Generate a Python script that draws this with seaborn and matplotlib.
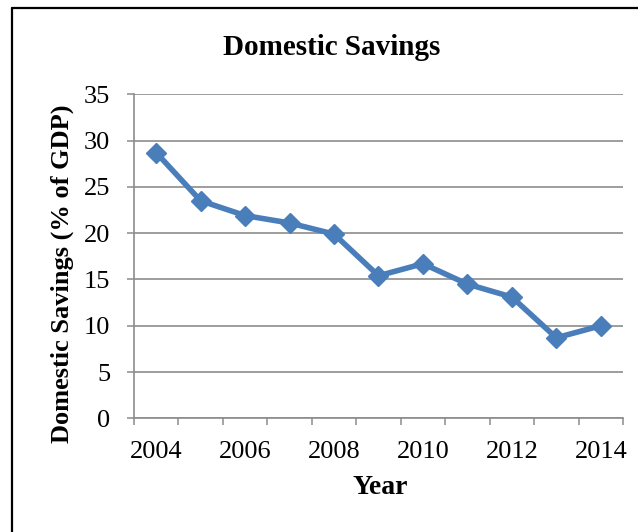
import numpy as np
import pandas as pd
import matplotlib
matplotlib.use("Agg")
import matplotlib.pyplot as plt
from matplotlib.lines import Line2D
import seaborn as sns

# Domestic savings as a share of GDP
years = [2004, 2005, 2006, 2007, 2008, 2009, 2010, 2011, 2012, 2013, 2014]
savings = [28.7, 23.5, 21.9, 21.1, 19.9, 15.4, 16.7, 14.5, 13.1, 8.7, 10.0]
year_labels = [2004, 2006, 2008, 2010, 2012, 2014]
y_ticks = [0, 5, 10, 15, 20, 25, 30, 35]

df = pd.DataFrame({"Year": years, "Savings": savings})

sns.set_theme(style="white")
plt.rcParams["font.family"] = ["Liberation Serif", "DejaVu Serif"]

fig = plt.figure(figsize=(6.38, 5.32), dpi=100)
ax = fig.add_axes([0.210, 0.2137, 0.7665, 0.609])

blue = "#4A7EBB"
grid_col = "#8C8C8C"

sns.lineplot(data=df, x="Year", y="Savings", ax=ax, color=blue, linewidth=4,
             marker="D", markersize=10.5, markeredgecolor=blue, markeredgewidth=1,
             zorder=3)

ax.set_ylim(0, 35)
ax.set_yticks(y_ticks)
ax.set_xlim(years[0] - 0.5, years[-1] + 0.5)

# category boundaries carry the tick marks; labels sit on every other year
ax.set_xticks([y - 0.5 for y in years] + [years[-1] + 0.5])
ax.set_xticklabels([])
ax.set_xticks(year_labels, minor=True)
ax.set_xticklabels([str(y) for y in year_labels], minor=True)

ax.tick_params(axis="x", which="major", direction="out", length=5, width=1.1,
               color=grid_col, bottom=True)
ax.tick_params(axis="x", which="minor", length=0, pad=16, labelsize=19,
               labelcolor="black", bottom=True)
ax.tick_params(axis="y", direction="out", length=5, width=1.1, color=grid_col,
               pad=12, labelsize=19, labelcolor="black", left=True)

ax.yaxis.grid(True, color=grid_col, linewidth=1.2)
ax.xaxis.grid(False)
ax.set_axisbelow(True)

for side in ["top", "right"]:
    ax.spines[side].set_visible(False)
for side in ["left", "bottom"]:
    ax.spines[side].set_color(grid_col)
    ax.spines[side].set_linewidth(1.2)

ax.set_xlabel("Year", fontsize=20, fontweight="bold", color="black",
              va="center", ha="center")
ax.set_ylabel("Domestic Savings (% of GDP)", fontsize=19, fontweight="bold",
              color="black", va="center", ha="center")
ax.xaxis.set_label_coords(0.503, -0.215)
ax.yaxis.set_label_coords(-0.147, 0.445)

fig.text(0.52, 0.911, "Domestic Savings", ha="center", va="center",
         fontsize=21, fontweight="bold", color="black")

# frame around the chart
fig.add_artist(Line2D([12 / 638, 12 / 638], [0, 1 - 8 / 532],
                      transform=fig.transFigure, color="black", linewidth=1.6))
fig.add_artist(Line2D([12 / 638, 1], [1 - 8 / 532, 1 - 8 / 532],
                      transform=fig.transFigure, color="black", linewidth=1.6))

fig.savefig("out.png", dpi=100, facecolor="white")
